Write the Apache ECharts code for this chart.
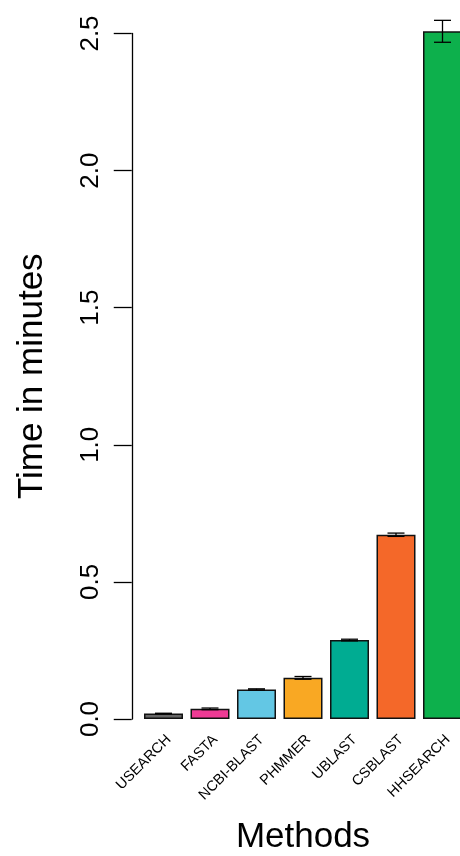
<!DOCTYPE html>
<html>
<head>
<meta charset="utf-8">
<script src="https://cdn.jsdelivr.net/npm/echarts@6/dist/echarts.min.js"></script>
<style>
  html, body { margin: 0; padding: 0; background: #fff; }
  #main { width: 460px; height: 856px; }
</style>
</head>
<body>
<div id="main"></div>
<script>
// data
var methods = ['USEARCH', 'FASTA', 'NCBI-BLAST', 'PHMMER', 'UBLAST', 'CSBLAST', 'HHSEARCH'];
var times = [0.02, 0.037, 0.108, 0.15, 0.288, 0.672, 2.508];
var errors = [0.001, 0.003, 0.002, 0.005, 0.003, 0.006, 0.04];
var colors = ['#666666', '#ee3a94', '#63c7e4', '#f9a823', '#00ac92', '#f46829', '#0db04c'];
var yTicks = [0, 0.5, 1.0, 1.5, 2.0, 2.5];

var font = 'Liberation Sans, Arial, Helvetica, sans-serif';
var chart = echarts.init(document.getElementById('main'));

var barData = times.map(function (v, i) {
    return { value: v, itemStyle: { color: colors[i] } };
});
var errData = times.map(function (v, i) {
    return [i, v - errors[i], v + errors[i]];
});

var option = {
    animation: false,
    backgroundColor: '#fff',
    grid: {
        left: 140.25,
        right: -5.75,
        top: 33.5,
        bottom: 137,
        containLabel: false,
        outerBoundsMode: 'none'
    },
    xAxis: {
        type: 'category',
        data: methods,
        boundaryGap: true,
        axisLine: { show: false },
        axisTick: { show: false },
        axisLabel: {
            rotate: 45,
            interval: 0,
            margin: 13,
            verticalAlign: 'top',
            fontSize: 14.5,
            color: '#000',
            fontFamily: font
        },
        name: 'Methods',
        nameLocation: 'middle',
        nameGap: 101,
        nameTextStyle: { fontSize: 35, color: '#000', fontFamily: font }
    },
    yAxis: {
        type: 'value',
        min: 0,
        max: 2.5,
        interval: 0.5,
        offset: 8.5,
        axisLine: { show: true, lineStyle: { color: '#000', width: 1.3 } },
        axisTick: { show: true, length: 18, lineStyle: { color: '#000', width: 1.3 } },
        splitLine: { show: false },
        axisLabel: {
            rotate: 90,
            margin: 28,
            fontSize: 26,
            color: '#000',
            fontFamily: font,
            formatter: function (v) { return v.toFixed(1); }
        },
        name: 'Time in minutes',
        nameLocation: 'middle',
        nameRotate: 90,
        nameGap: 82,
        nameTextStyle: { fontSize: 35, color: '#000', fontFamily: font }
    },
    series: [
        {
            type: 'bar',
            data: barData,
            barWidth: 39,
            clip: false,
            itemStyle: { borderColor: '#111', borderWidth: 1.5 }
        },
        {
            type: 'custom',
            data: errData,
            clip: false,
            z: 5,
            renderItem: function (params, api) {
                var lo = api.coord([api.value(0), api.value(1)]);
                var hi = api.coord([api.value(0), api.value(2)]);
                var hw = 8.5;
                var st = { stroke: '#000', lineWidth: 1.3 };
                return {
                    type: 'group',
                    children: [
                        { type: 'line', shape: { x1: hi[0], y1: hi[1], x2: lo[0], y2: lo[1] }, style: st },
                        { type: 'line', shape: { x1: hi[0] - hw, y1: hi[1], x2: hi[0] + hw, y2: hi[1] }, style: st },
                        { type: 'line', shape: { x1: lo[0] - hw, y1: lo[1], x2: lo[0] + hw, y2: lo[1] }, style: st }
                    ]
                };
            }
        }
    ]
};

//渲染图表
if (option && typeof option === "object") {
    chart.setOption(option, true);
}
</script>
</body>
</html>
